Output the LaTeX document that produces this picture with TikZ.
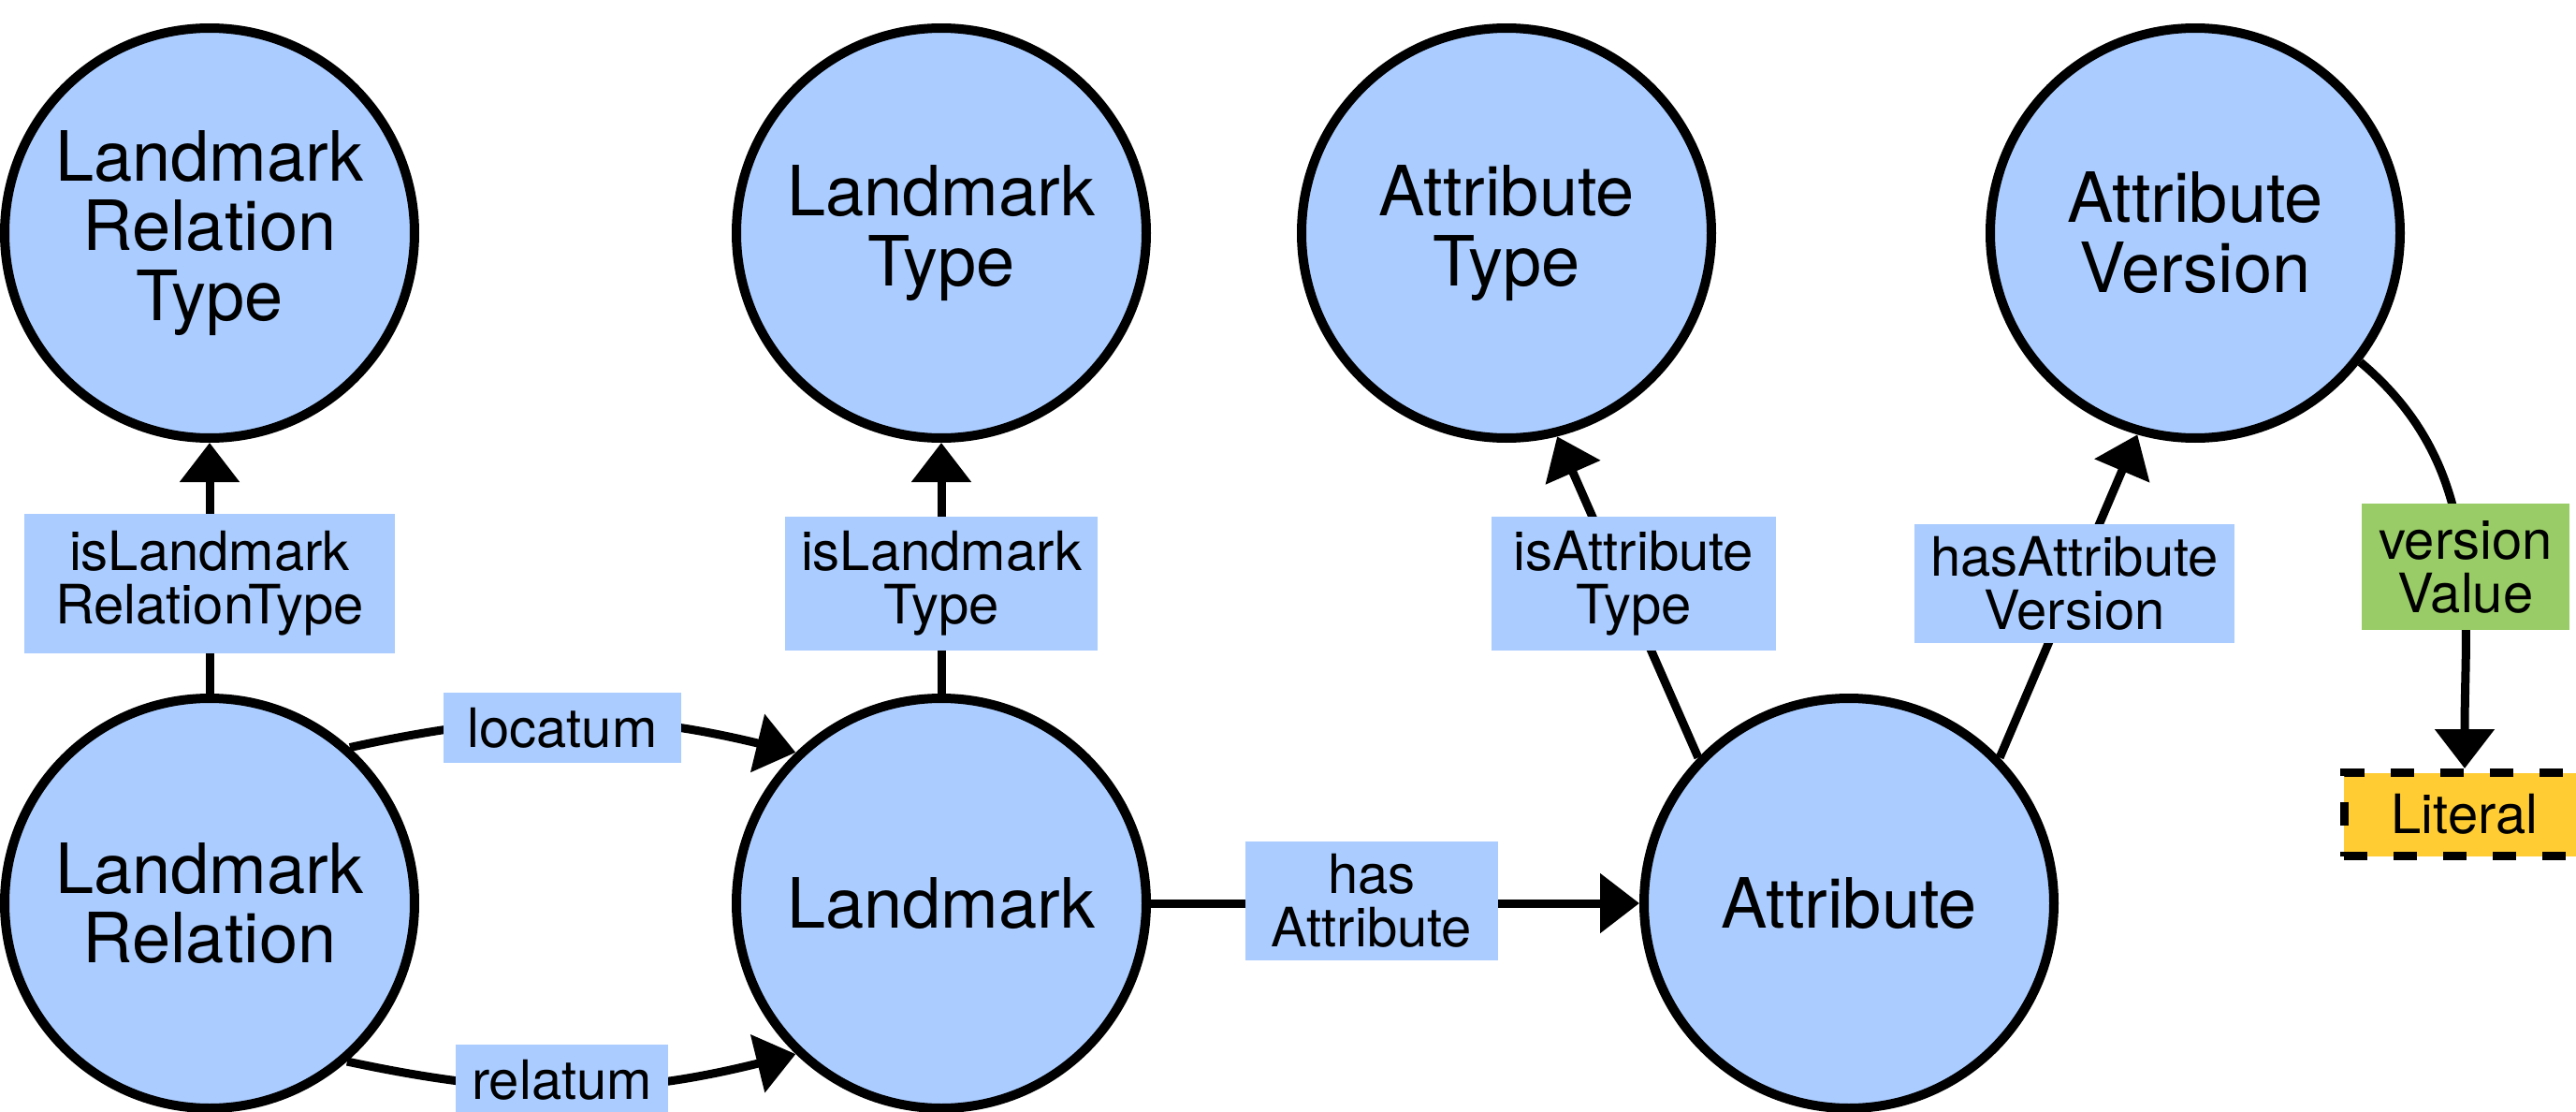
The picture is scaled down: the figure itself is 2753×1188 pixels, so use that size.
\documentclass[tikz,border=0pt]{standalone}
\usepackage{fontspec}
\setmainfont{TeX Gyre Heros}
\usetikzlibrary{arrows.meta}
\definecolor{nodeblue}{HTML}{AACCFF}
\definecolor{valgreen}{HTML}{99CC66}
\definecolor{lityellow}{HTML}{FFCC33}
\begin{document}
\begin{tikzpicture}[x=0.1mm, y=-0.1mm,
  cls/.style={circle, draw=black, line width=1.0mm, fill=nodeblue, minimum size=43.8mm,
    inner sep=0pt, align=center, font=\fontsize{21.06pt}{21.3pt}\selectfont},
  lbl/.style={rectangle, fill=nodeblue, inner sep=0pt, align=center,
    font=\fontsize{16.5pt}{16.2pt}\selectfont},
  vallbl/.style={lbl, fill=valgreen},
  litbox/.style={rectangle, draw=black, fill=lityellow, line width=0.9mm,
    dash pattern=on 2.5mm off 2.8mm, inner sep=0pt,
    font=\fontsize{16.5pt}{16.2pt}\selectfont},
  arr/.style={line width=0.9mm, -{Triangle[length=4.2mm, width=6.2mm]}}]
\useasboundingbox (0,0) rectangle (2753,1188);

% classes
\node[cls] (LRT) at (224,249) {Landmark\\Relation\\Type};
\node[cls] (LT) at (1006,249) {Landmark\\Type};
\node[cls] (AT) at (1610,249) {Attribute\\Type};
\node[cls] (AV) at (2346,249) {Attribute\\Version};
\node[cls] (LR) at (224,965) {Landmark\\Relation};
\node[cls] (L) at (1006,965) {Landmark};
\node[cls] (A) at (1976,965) {Attribute};
\node[litbox, minimum width=25.8mm, minimum height=8.9mm] (Lit) at (2634,870) {Literal};

% connectors
\draw[arr] (LR) -- (LRT);
\draw[arr] (L) -- (LT);
\draw[arr] (LR.48.5) to[bend left=13] (L.134.6);
\draw[arr] (LR.-49) to[bend right=13] (L.-134.6);
\draw[arr] (L) -- (A);
\draw[arr] (A.136.3) -- (AT.284.3);
\draw[arr] (A.44.4) -- (AV.254.5);
\draw[arr] (AV.-38.5) to[out=-40, in=90] (Lit.north);

% connector labels
\node[lbl, minimum width=39.6mm, minimum height=14.9mm] (l1) at (224,623.5) {isLandmark\\RelationType};
\node[lbl, minimum width=33.4mm, minimum height=14.3mm] (l2) at (1006,623.5) {isLandmark\\Type};
\node[lbl, minimum width=25.4mm, minimum height=7.5mm] (l3) at (601,777.5) {locatum};
\node[lbl, minimum width=22.7mm, minimum height=7.5mm] (l4) at (600.5,1153.5) {relatum};
\node[lbl, minimum width=27.0mm, minimum height=12.7mm] (l5) at (1466,962) {has\\Attribute};
\node[lbl, minimum width=30.4mm, minimum height=14.3mm] (l6) at (1746,623.5) {isAttribute\\Type};
\node[lbl, minimum width=34.2mm, minimum height=12.7mm] (l7) at (2217,623.5) {hasAttribute\\Version};
\node[vallbl, minimum width=22.2mm, minimum height=13.5mm] (l8) at (2635,605.5) {version\\Value};
\end{tikzpicture}
\end{document}
